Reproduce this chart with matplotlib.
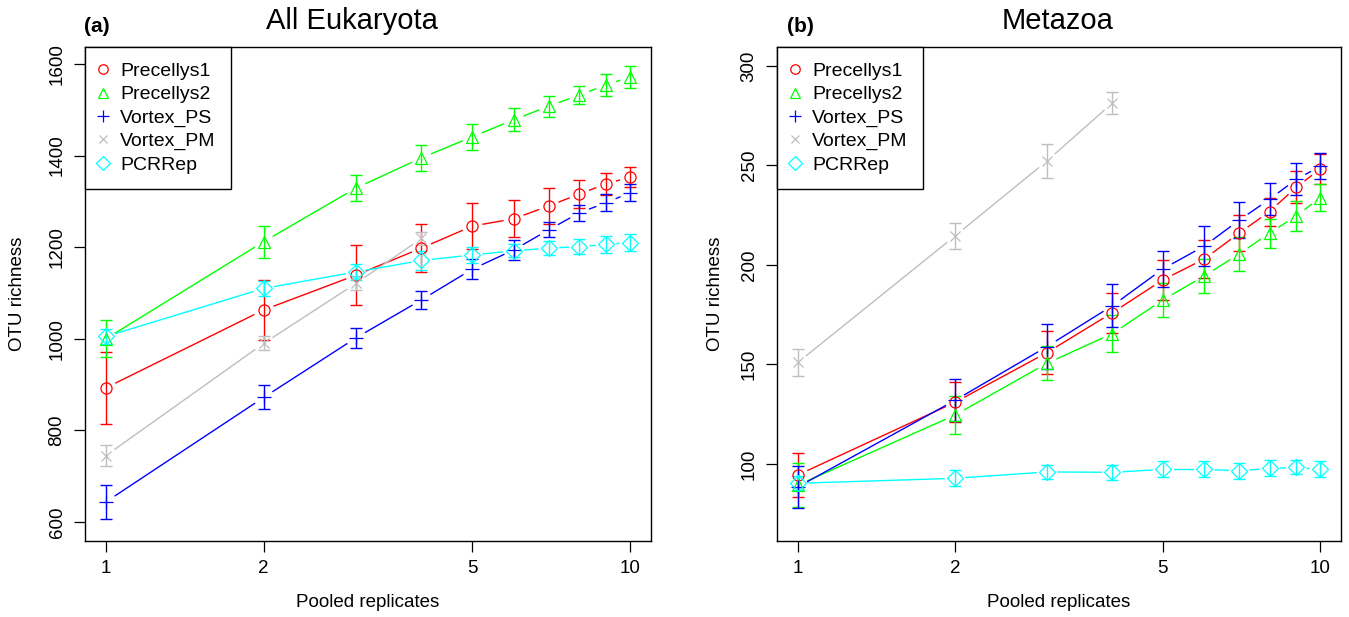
import numpy as np
import matplotlib.pyplot as plt
from matplotlib.lines import Line2D
from matplotlib.ticker import FixedLocator, NullLocator, FixedFormatter

plt.rcParams['font.family'] = ['Liberation Sans', 'DejaVu Sans']

reps = [1, 2, 3, 4, 5, 6, 7, 8, 9, 10]
reps_pm = [1, 2, 3, 4]
labels = ['Precellys1', 'Precellys2', 'Vortex_PS', 'Vortex_PM', 'PCRRep']
colors = ['#ff0000', '#00ff00', '#0000ff', '#bebebe', '#00ffff']
markers = ['o', '^', '+', 'x', 'D']
msizes = [8, 9, 9.5, 7.5, 8]

# (a) All Eukaryota: means and error half-widths
euk_prec1 = [893, 1063, 1139, 1198, 1246, 1262, 1290, 1316, 1338, 1353]
euk_prec1_se = [78, 65, 65, 53, 51, 40, 40, 30, 24, 21]
euk_prec2 = [1000, 1212, 1329, 1395, 1441, 1478, 1508, 1532, 1554, 1572]
euk_prec2_se = [40, 35, 28, 29, 28, 25, 23, 20, 23, 24]
euk_vps = [644, 872, 1002, 1085, 1152, 1194, 1238, 1275, 1297, 1319]
euk_vps_se = [37, 26, 22, 20, 22, 21, 16, 18, 18, 19]
euk_vpm = [745, 990, 1121, 1219]
euk_vpm_se = [22, 15, 15, 15]
euk_pcr = [1005, 1110, 1146, 1171, 1183, 1192, 1198, 1201, 1206, 1210]
euk_pcr_se = [17, 17, 18, 20, 17, 14, 16, 16, 18, 19]

# (b) Metazoa
met_prec1 = [94.5, 131, 156, 176, 192.5, 203, 216, 226.8, 239, 248.2]
met_prec1_se = [11, 10, 11, 10, 10, 9.5, 9, 7, 8, 7.5]
met_prec2 = [89.4, 124.6, 150.6, 165.5, 182.4, 194.5, 205.5, 216, 224.6, 233.8]
met_prec2_se = [11, 9.5, 8.5, 9.2, 8.7, 8.7, 8.5, 7.3, 7.5, 6.8]
met_vps = [88.5, 132, 159, 179.5, 198, 209.5, 222.5, 233, 243, 249.5]
met_vps_se = [10.5, 10.5, 11.5, 10.8, 9, 10, 9, 8, 8, 6.5]
met_vpm = [151, 214.6, 252.3, 281.3]
met_vpm_se = [6.8, 6.5, 8.5, 5.6]
met_pcr = [90.3, 92.8, 96, 95.8, 97.3, 97.3, 96.6, 97.8, 98.3, 97.3]
met_pcr_se = [3.5, 4, 3.5, 3.8, 4, 4, 4, 4, 3.5, 4]


def gapped_line(ax, x, y, color, gap=11):
    # R type="b": lines stop short of each point
    pts = ax.transData.transform(np.column_stack([x, y]))
    inv = ax.transData.inverted()
    for p, q in zip(pts[:-1], pts[1:]):
        d = q - p
        L = np.hypot(d[0], d[1])
        if L <= 2 * gap:
            continue
        u = d / L
        seg = inv.transform(np.array([p + u * gap, q - u * gap]))
        ax.plot(seg[:, 0], seg[:, 1], color=color, lw=1.0, zorder=2)


def panel(ax, series, ylim, yticks, title, tag, title_x, tag_x):
    ax.set_xscale('log')
    ax.set_xlim(10 ** -0.04, 10 ** 1.04)
    ax.set_ylim(*ylim)
    ax.xaxis.set_major_locator(FixedLocator([1, 2, 5, 10]))
    ax.xaxis.set_major_formatter(FixedFormatter(['1', '2', '5', '10']))
    ax.xaxis.set_minor_locator(NullLocator())
    ax.set_yticks(yticks)
    ax.tick_params(axis='both', direction='out', length=8, width=0.9,
                   labelsize=13.5, pad=6)
    ax.tick_params(axis='y', labelrotation=90)
    for lab in ax.get_yticklabels():
        lab.set_va('center')
    for s in ax.spines.values():
        s.set_linewidth(1.0)

    for (x, y, se), c, m, ms in zip(series, colors, markers, msizes):
        gapped_line(ax, x, y, c)
        ax.errorbar(x, y, yerr=se, fmt='none', ecolor=c, elinewidth=1.0,
                    capsize=4.3, capthick=1.0, zorder=3)
        ax.plot(x, y, ls='none', marker=m, mfc='none', mec=c, ms=ms,
                mew=0.9, zorder=4)

    handles = [Line2D([], [], ls='none', marker=m, mfc='none', mec=c,
                      ms=ms * 0.85, mew=0.9)
               for c, m, ms in zip(colors, markers, msizes)]
    leg = ax.legend(handles, labels, loc='upper left', bbox_to_anchor=(0, 1),
                    borderaxespad=0, fontsize=14, fancybox=False,
                    edgecolor='black', framealpha=1, borderpad=0.8,
                    handlelength=0.2, handletextpad=0.8, labelspacing=0.29)
    leg.get_frame().set_linewidth(1.0)

    ax.set_xlabel('Pooled replicates', fontsize=13.5, va='center')
    ax.xaxis.set_label_coords(0.5, -0.1255)
    ax.set_ylabel('OTU richness', fontsize=13.5, va='center')

    fig.text(title_x, 1 - 29 / 617, title, fontsize=21, ha='center',
             va='baseline')
    fig.text(tag_x, 1 - 32 / 617, tag, fontsize=15, fontweight='bold',
             ha='left', va='baseline')


fig = plt.figure(figsize=(13.49, 6.17), dpi=100)
W, H = 1349, 617
ax1 = fig.add_axes([85 / W, (H - 541) / H, 566 / W, 494 / H])
ax2 = fig.add_axes([777 / W, (H - 541) / H, 564 / W, 494 / H])

euk = [(reps, euk_prec1, euk_prec1_se), (reps, euk_prec2, euk_prec2_se),
       (reps, euk_vps, euk_vps_se), (reps_pm, euk_vpm, euk_vpm_se),
       (reps, euk_pcr, euk_pcr_se)]
met = [(reps, met_prec1, met_prec1_se), (reps, met_prec2, met_prec2_se),
       (reps, met_vps, met_vps_se), (reps_pm, met_vpm, met_vpm_se),
       (reps, met_pcr, met_pcr_se)]

panel(ax1, euk, (558.5, 1637), [600, 800, 1000, 1200, 1400, 1600],
      'All Eukaryota', '(a)', 352 / W, 84 / W)
ax1.yaxis.set_label_coords((18 - 85) / 566, 0.5)
panel(ax2, met, (61.3, 309.5), [100, 150, 200, 250, 300],
      'Metazoa', '(b)', 1058 / W, 787 / W)
ax2.yaxis.set_label_coords((715 - 777) / 564, 0.5)

fig.savefig('out.png', dpi=100)
